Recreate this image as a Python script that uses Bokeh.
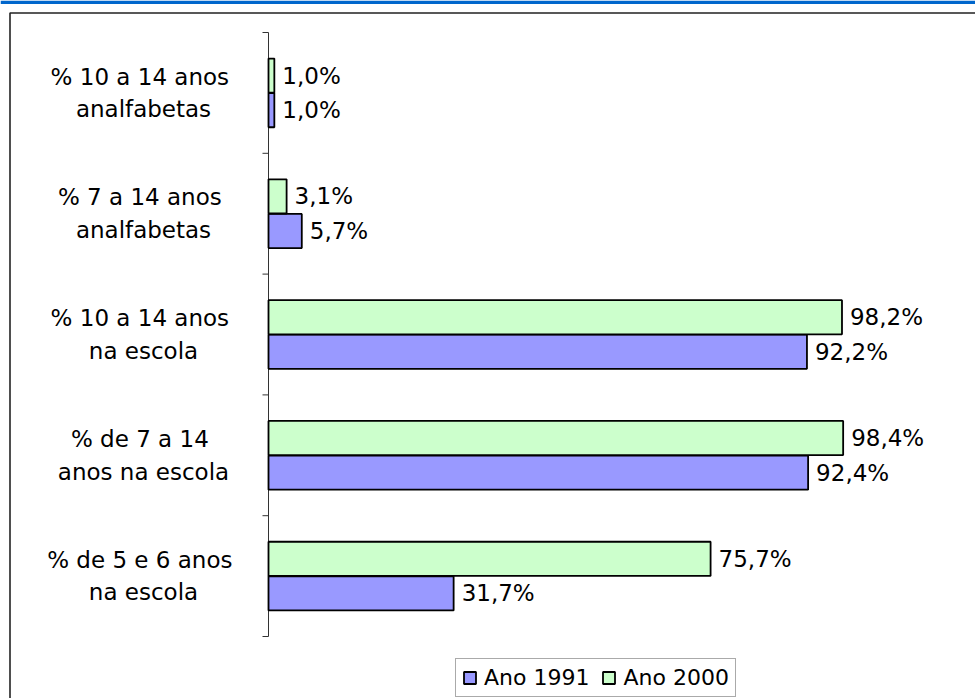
from bokeh.plotting import figure
from bokeh.models import ColumnDataSource, Range1d, Legend, LegendItem
from bokeh.core.properties import value
from bokeh.embed import file_html
from bokeh.resources import INLINE

# ---- data (bottom to top) ----
categories = [
    "%  de 5 e 6 anos\nna escola",
    "%  de 7 a 14\nanos na escola",
    "%  10 a 14 anos\nna escola",
    "%  7 a 14 anos\nanalfabetas",
    "%  10 a 14 anos\nanalfabetas",
]
ano_1991 = [31.7, 92.4, 92.2, 5.7, 1.0]
ano_2000 = [75.7, 98.4, 98.2, 3.1, 1.0]
series_names = ["Ano 1991", "Ano 2000"]

W, H = 975, 698
X0, SX = 268.0, 5.84          # pixel of value 0, pixels per percent
YC0, SY = 575.6, 120.8        # pixel of bottom category centre, pixels per category


def dx(px):
    return (px - X0) / SX


def dy(py):
    return (YC0 - py) / SY


FONT = value("DejaVu Sans")
FS = "23px"

p = figure(width=W, height=H, output_backend="svg", toolbar_location=None,
           x_range=Range1d(dx(0), dx(W)), y_range=Range1d(dy(H), dy(0)),
           min_border=0, x_axis_type=None, y_axis_type=None)
p.outline_line_color = None
p.xgrid.visible = False
p.ygrid.visible = False
p.background_fill_color = "white"
p.border_fill_color = "white"
p.styles = {"position": "absolute", "left": "0px", "top": "0px"}

# decorative page elements: blue top rule and outer frame
p.quad(left=[dx(0)], right=[dx(W)], top=[dy(0)], bottom=[dy(3.5)],
       fill_color="#0066CC", line_color=None)
p.line(x=[dx(9.5), dx(9.5), dx(W + 10)], y=[dy(H + 10), dy(12.5), dy(12.5)],
       line_color="#222222", line_width=1.6)

# category axis
ks = list(range(len(categories)))
p.segment(x0=[0], y0=[-0.5], x1=[0], y1=[len(categories) - 0.5],
          line_color="#333333", line_width=1)
bounds = [k - 0.5 for k in range(len(categories) + 1)]
p.segment(x0=[dx(X0 - 6)] * len(bounds), y0=bounds, x1=[0] * len(bounds), y1=bounds,
          line_color="#333333", line_width=1)

off = 0.143
bh = 0.283
src = ColumnDataSource(dict(
    y91=[k - off for k in ks], y00=[k + off for k in ks],
    v91=ano_1991, v00=ano_2000,
    l91=[f"{v:.1f}".replace(".", ",") + "%" for v in ano_1991],
    l00=[f"{v:.1f}".replace(".", ",") + "%" for v in ano_2000],
    cat=categories, k=ks,
))

r91 = p.hbar(y="y91", right="v91", left=0, height=bh, source=src,
             fill_color="#9999FF", line_color="black", line_width=1.8)
r00 = p.hbar(y="y00", right="v00", left=0, height=bh, source=src,
             fill_color="#CCFFCC", line_color="black", line_width=1.8)

p.text(x="v91", y="y91", text="l91", source=src, x_offset=8,
       text_font=FONT, text_font_size=FS, text_baseline="middle", text_align="left",
       text_color="black")
p.text(x="v00", y="y00", text="l00", source=src, x_offset=8,
       text_font=FONT, text_font_size=FS, text_baseline="middle", text_align="left",
       text_color="black")

p.text(x=dx(143), y="k", text="cat", source=src,
       text_font=FONT, text_font_size=FS, text_baseline="middle", text_align="center",
       text_line_height=1.25, text_color="black")

legend = Legend(items=[LegendItem(label=series_names[0], renderers=[r91]),
                       LegendItem(label=series_names[1], renderers=[r00])],
                orientation="horizontal", location=(455, 1),
                label_text_font="DejaVu Sans", label_text_font_size="22px",
                label_text_color="black",
                glyph_width=15, glyph_height=15, label_standoff=7, spacing=12,
                padding=6, margin=0, border_line_color="#555555", border_line_width=1,
                background_fill_alpha=1)
p.add_layout(legend, "center")

open("out.html", "w").write(file_html(p, INLINE))
